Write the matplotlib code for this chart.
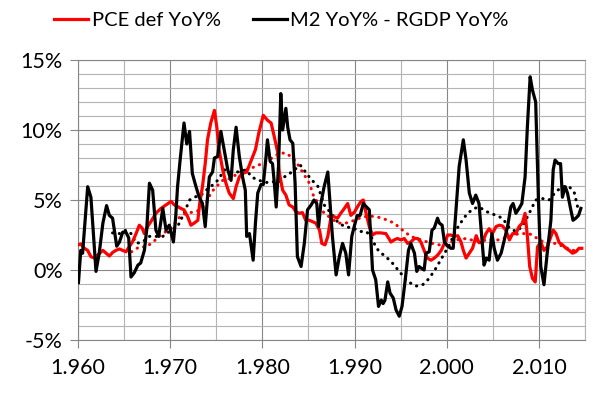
import matplotlib
matplotlib.use("Agg")
import matplotlib.pyplot as plt
from matplotlib.ticker import MultipleLocator, FuncFormatter

plt.rcParams['font.family'] = ['Lato', 'DejaVu Sans']

# PCE deflator YoY% (red, solid)
pce_x = [1960.05, 1960.3, 1960.7, 1961.05, 1961.4, 1961.8, 1962.1, 1962.7, 1963.05, 1963.4,
         1963.75, 1964.1, 1964.5, 1964.85, 1965.2, 1965.55, 1965.9, 1966.3, 1966.65, 1966.95,
         1967.2, 1967.55, 1967.9, 1968.45, 1969.0, 1969.55, 1970.1, 1970.45, 1970.9, 1971.15,
         1971.5, 1971.9, 1972.25, 1972.6, 1973.0, 1973.2, 1973.5, 1973.8, 1974.05, 1974.4,
         1974.8, 1975.05, 1975.3, 1975.7, 1976.05, 1976.4, 1976.85, 1977.15, 1977.5, 1977.85,
         1978.3, 1978.75, 1979.25, 1979.6, 1980.1, 1980.55, 1980.95, 1981.3, 1981.65, 1981.85,
         1982.2, 1982.55, 1982.9, 1983.3, 1983.65, 1984.0, 1984.35, 1984.7, 1985.1, 1985.45,
         1985.8, 1986.2, 1986.45, 1986.8, 1987.1, 1987.45, 1987.8, 1988.15, 1988.5, 1988.9,
         1989.25, 1989.6, 1990.0, 1990.3, 1990.7, 1990.95, 1991.25, 1991.6, 1991.95, 1992.3,
         1992.85, 1993.4, 1993.95, 1994.3, 1994.65, 1995.05, 1995.4, 1995.75, 1996.1, 1996.5,
         1996.85, 1997.2, 1997.55, 1997.9, 1998.3, 1998.65, 1999.0, 1999.4, 1999.75, 2000.1,
         2000.45, 2000.8, 2001.2, 2001.55, 2001.8, 2002.1, 2002.45, 2002.8, 2003.2, 2003.5,
         2003.9, 2004.25, 2004.6, 2004.95, 2005.35, 2005.7, 2006.05, 2006.4, 2006.8, 2007.15,
         2007.5, 2007.85, 2008.2, 2008.5, 2008.75, 2009.0, 2009.3, 2009.6, 2009.85, 2010.2,
         2010.55, 2010.9, 2011.3, 2011.55, 2011.85, 2012.2, 2012.55, 2012.95, 2013.3, 2013.65,
         2014.0, 2014.35, 2014.65]
pce_y = [1.8, 1.85, 1.55, 1.4, 0.95, 0.85, 1.05, 1.4, 1.2, 1.0,
         1.25, 1.4, 1.5, 1.4, 1.3, 1.65, 2.0, 2.6, 3.2, 3.0,
         2.6, 3.1, 3.45, 4.05, 4.4, 4.65, 4.9, 4.65, 4.5, 4.4,
         4.3, 3.8, 3.2, 3.35, 3.55, 4.75, 5.95, 7.6, 9.3, 10.5,
         11.4, 10.25, 8.6, 7.15, 6.2, 5.5, 5.1, 5.95, 6.65, 6.9,
         7.0, 7.75, 8.6, 9.75, 11.05, 10.7, 10.5, 9.5, 8.45, 6.9,
         5.7, 5.35, 4.65, 4.5, 4.15, 4.05, 4.1, 3.55, 3.55, 3.45,
         3.35, 2.85, 1.9, 1.8, 2.4, 3.8, 3.8, 3.7, 4.05, 4.4,
         4.75, 3.9, 4.15, 4.5, 4.9, 5.0, 4.05, 3.1, 2.5, 2.65,
         2.65, 2.6, 2.0, 2.15, 2.25, 2.15, 2.25, 1.9, 2.0, 2.25,
         2.25, 2.0, 1.4, 0.85, 0.7, 0.85, 1.05, 1.4, 1.9, 2.5,
         2.5, 2.4, 2.45, 2.0, 1.4, 0.85, 1.2, 1.55, 2.45, 1.95,
         2.0, 2.6, 2.95, 2.6, 3.1, 3.2, 3.15, 2.85, 2.15, 2.6,
         2.6, 3.1, 3.35, 4.05, 2.4, 0.25, -0.6, -0.85, 1.65, 2.0,
         1.4, 1.65, 2.4, 2.85, 2.6, 1.95, 1.8, 1.55, 1.4, 1.2,
         1.3, 1.55, 1.55]

# M2 YoY% - RGDP YoY% (black, solid)
m2_x = [1960.05, 1960.3, 1960.5, 1961.05, 1961.4, 1961.95, 1962.3, 1962.7, 1963.1, 1963.4,
        1963.75, 1964.2, 1964.5, 1964.85, 1965.2, 1965.5, 1965.75, 1966.1, 1966.5, 1966.8,
        1967.2, 1967.45, 1967.75, 1968.1, 1968.45, 1968.75, 1969.2, 1969.55, 1969.9, 1970.35,
        1970.6, 1970.8, 1971.1, 1971.5, 1971.8, 1972.1, 1972.4, 1972.8, 1973.15, 1973.5,
        1973.8, 1974.05, 1974.25, 1974.6, 1974.8, 1975.15, 1975.5, 1975.9, 1976.25, 1976.6,
        1976.85, 1977.15, 1977.5, 1977.85, 1978.15, 1978.3, 1978.6, 1978.9, 1979.0, 1979.25,
        1979.5, 1979.85, 1980.1, 1980.4, 1980.55, 1980.85, 1981.1, 1981.3, 1981.5, 1981.75,
        1982.0, 1982.2, 1982.55, 1982.75, 1983.0, 1983.3, 1983.55, 1983.8, 1984.2, 1984.55,
        1984.9, 1985.3, 1985.6, 1985.9, 1986.1, 1986.35, 1986.7, 1987.1, 1987.3, 1987.6,
        1988.0, 1988.35, 1988.7, 1989.05, 1989.35, 1989.7, 1990.0, 1990.3, 1990.6, 1990.95,
        1991.3, 1991.6, 1991.95, 1992.3, 1992.6, 1992.9, 1993.1, 1993.3, 1993.6, 1993.85,
        1994.2, 1994.5, 1994.85, 1995.15, 1995.5, 1995.85, 1996.1, 1996.5, 1996.75, 1997.0,
        1997.3, 1997.55, 1997.75, 1998.1, 1998.4, 1998.65, 1999.0, 1999.2, 1999.5, 1999.75,
        2000.1, 2000.45, 2000.7, 2001.0, 2001.35, 2001.8, 2002.1, 2002.45, 2002.8, 2003.15,
        2003.5, 2003.8, 2004.05, 2004.3, 2004.6, 2004.9, 2005.15, 2005.5, 2005.9, 2006.25,
        2006.6, 2006.95, 2007.2, 2007.5, 2007.85, 2008.15, 2008.5, 2008.75, 2009.05, 2009.3,
        2009.65, 2009.95, 2010.2, 2010.55, 2010.9, 2011.3, 2011.55, 2011.75, 2012.1, 2012.35,
        2012.55, 2012.85, 2013.1, 2013.4, 2013.7, 2014.0, 2014.3, 2014.55]
m2_y = [-0.9, 1.4, 1.2, 5.95, 5.2, -0.1, 1.2, 3.35, 4.6, 3.9,
        3.7, 1.7, 2.0, 2.7, 2.7, 2.3, -0.5, -0.2, 0.35, 0.5,
        1.4, 2.85, 6.2, 5.7, 2.85, 2.4, 4.4, 2.85, 3.2, 2.0,
        3.8, 5.95, 8.0, 10.5, 9.0, 9.9, 6.9, 5.95, 5.2, 4.75,
        3.1, 5.2, 6.65, 7.0, 8.0, 8.1, 9.9, 8.45, 7.15, 6.4,
        8.6, 10.2, 8.1, 6.65, 5.7, 2.4, 2.6, 1.2, 0.7, 3.35,
        5.5, 6.1, 6.1, 8.1, 9.3, 7.75, 7.6, 6.2, 4.5, 7.4,
        12.6, 10.0, 11.55, 10.2, 9.3, 9.05, 6.2, 0.95, 0.25, 1.9,
        4.3, 4.65, 5.0, 4.75, 3.1, 4.75, 5.95, 7.0, 5.2, 2.4,
        -0.35, 0.95, 1.9, 1.2, -0.35, 2.4, 3.2, 3.9, 3.9, 4.75,
        4.5, 4.3, 0.0, -0.7, -2.6, -2.15, -2.4, -2.15, -0.85, -1.65,
        -2.0, -2.85, -3.3, -2.6, -0.7, 1.4, 1.9, 1.2, -0.1, 0.25,
        0.1, 0.0, 1.2, 1.3, 2.85, 3.0, 3.7, 3.35, 3.2, 2.0,
        1.7, 1.55, 1.55, 4.3, 7.4, 9.3, 7.85, 5.5, 4.75, 5.35,
        4.75, 2.4, 0.35, 0.85, 0.7, 2.6, 1.55, 0.7, 1.2, 2.15,
        3.1, 4.5, 4.75, 4.05, 4.4, 4.75, 6.65, 10.25, 13.8, 12.85,
        12.0, 5.0, 0.25, -1.05, 1.2, 3.55, 7.15, 7.85, 7.6, 7.6,
        5.2, 5.95, 5.5, 4.5, 3.55, 3.7, 3.9, 4.4]

# dotted trend lines
pce_trend_x = [1965.8, 1966.65, 1967.4, 1968.15, 1968.8, 1969.55, 1970.25, 1970.9, 1971.7, 1972.6,
               1973.35, 1973.9, 1974.4, 1975.0, 1975.7, 1976.6, 1977.3, 1978.2, 1979.3, 1980.4,
               1981.3, 1981.85, 1982.55, 1983.1, 1983.65, 1984.35, 1985.1, 1985.6, 1986.2, 1986.7,
               1987.45, 1988.15, 1989.05, 1990.0, 1990.9, 1991.8, 1992.7, 1993.4, 1994.3, 1995.2,
               1996.1, 1997.0, 1997.9, 1999.0, 1999.9, 2001.0, 2002.1, 2003.2, 2004.6, 2005.7,
               2006.8, 2007.85, 2008.95, 2009.85, 2010.75, 2011.85, 2012.75, 2013.65, 2014.35]
pce_trend_y = [1.3, 1.65, 1.65, 2.0, 2.4, 2.75, 3.1, 3.7, 4.05, 4.15,
               4.3, 4.75, 5.5, 5.95, 6.4, 6.55, 6.9, 7.15, 7.4, 7.75,
               8.1, 8.35, 8.35, 8.1, 7.75, 7.0, 6.2, 5.2, 4.65, 4.05,
               3.7, 3.35, 3.35, 3.55, 3.8, 3.85, 3.75, 3.6, 3.35, 2.85,
               2.4, 2.2, 2.0, 1.8, 1.8, 2.15, 2.25, 2.05, 2.15, 2.15,
               2.4, 2.6, 2.6, 2.25, 1.9, 1.9, 1.65, 1.4, 1.4]

m2_trend_x = [1963.75, 1964.5, 1965.2, 1965.75, 1966.3, 1967.0, 1967.75, 1968.45, 1969.2, 1970.1,
              1970.8, 1971.5, 1972.1, 1972.6, 1973.35, 1973.9, 1974.4, 1975.15, 1975.9, 1976.6,
              1977.3, 1978.2, 1978.95, 1979.65, 1980.4, 1981.1, 1981.85, 1982.4, 1983.2, 1984.1,
              1985.2, 1986.05, 1986.7, 1987.45, 1988.15, 1988.9, 1989.8, 1990.7, 1991.25, 1991.8,
              1992.3, 1992.7, 1993.4, 1994.1, 1994.85, 1995.6, 1996.1, 1996.65, 1997.4, 1998.1,
              1998.8, 1999.55, 2000.3, 2001.0, 2001.7, 2002.25, 2003.0, 2003.5, 2004.4, 2005.35,
              2006.05, 2006.8, 2007.5, 2008.2, 2008.95, 2009.65, 2010.4, 2011.1, 2011.85, 2012.55,
              2013.3, 2013.85, 2014.2]
m2_trend_y = [2.65, 2.6, 2.85, 2.6, 1.9, 2.0, 2.4, 2.4, 2.4, 2.85,
              3.1, 4.05, 5.0, 5.2, 5.35, 5.7, 5.95, 6.4, 7.15, 7.0,
              7.0, 7.15, 6.6, 6.4, 6.25, 6.3, 6.3, 6.65, 7.0, 7.5,
              6.55, 5.95, 4.65, 4.05, 3.45, 3.1, 3.0, 2.75, 2.75, 2.4,
              1.65, 1.3, 0.95, 0.5, -0.1, -0.7, -0.95, -1.15, -1.05, -0.6,
              0.1, 0.95, 1.8, 2.85, 3.55, 4.05, 4.4, 4.5, 4.15, 3.9,
              3.7, 3.0, 2.75, 3.1, 4.05, 5.0, 5.1, 5.0, 5.6, 5.95,
              5.95, 5.5, 4.5]

fig = plt.figure(figsize=(5.96, 3.96), dpi=100)
ax = fig.add_axes([78/596, 1-340/396, (585-78)/596, 280/396])

ax.plot(pce_trend_x, pce_trend_y, color='#ff0000', lw=2.2, dashes=(0.1, 2.1),
        dash_capstyle='round', zorder=3)
ax.plot(m2_trend_x, m2_trend_y, color='black', lw=2.2, dashes=(0.1, 2.1),
        dash_capstyle='round', zorder=3)
ax.plot(pce_x, pce_y, color='#ff0000', lw=2.3, label='PCE def YoY%', zorder=4)
ax.plot(m2_x, m2_y, color='black', lw=2.3, label='M2 YoY% - RGDP YoY%', zorder=5)

ax.set_xlim(1960, 2015)
ax.set_ylim(-5, 15)
ax.xaxis.set_major_locator(MultipleLocator(10))
ax.xaxis.set_minor_locator(MultipleLocator(5))
ax.yaxis.set_major_locator(MultipleLocator(5))
ax.yaxis.set_minor_locator(MultipleLocator(1))
ax.xaxis.set_major_formatter(FuncFormatter(lambda v, p: "{}.{:03d}".format(int(v) // 1000, int(v) % 1000)))
ax.yaxis.set_major_formatter(FuncFormatter(lambda v, p: "{:d}%".format(int(round(v)))))

ax.grid(which='major', color='#868686', lw=0.8)
ax.grid(which='minor', color='#b4b4b4', lw=0.8)
ax.set_axisbelow(True)
ax.tick_params(which='major', direction='out', length=6, width=0.8, color='#868686',
               labelsize=15.5, pad=5)
ax.tick_params(axis='x', which='major', pad=7)
ax.tick_params(which='minor', length=0)
for s in ax.spines.values():
    s.set_color('#868686')
    s.set_linewidth(0.8)
ax.spines['right'].set_color('#b4b4b4')

fig.legend(loc='upper center', bbox_to_anchor=(0.472, 1.015), ncol=2, frameon=False,
           fontsize=14.5, handlelength=1.7, handletextpad=0.15, columnspacing=1.6)

fig.savefig('out.png', dpi=100)
